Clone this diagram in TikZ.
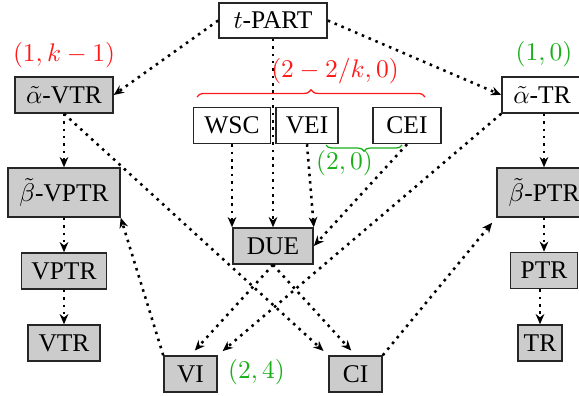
\documentclass[tikz,border=0pt]{standalone}
\usepackage{fontspec}
\setmainfont{Liberation Serif}
\usetikzlibrary{arrows.meta,decorations.pathreplacing}
\definecolor{lblred}{RGB}{255,25,25}
\definecolor{lblgreen}{RGB}{25,175,25}
\begin{document}
\begin{tikzpicture}[x=0.3922pt,y=-0.3922pt,
  box/.style={draw=black!85, line width=0.6pt, inner sep=0pt, minimum height=14.1pt, fill=white},
  gbox/.style={box, fill=black!20},
  arr/.style={line width=1pt, dash pattern=on 1pt off 1.9pt, -{Stealth[length=4pt,width=3.4pt,inset=1.3pt]}},
  sarr/.style={arr, shorten >=2.5pt},
  rlab/.style={text=lblred, inner sep=0pt},
  glab/.style={text=lblgreen, inner sep=0pt},
  brc/.style={line width=0.5pt, decorate}
]
\useasboundingbox (0,0) rectangle (579,395);

% nodes
\node[box, minimum width=42.4pt, minimum height=13.7pt] (tpart) at (273,20.5) {$t$-PART};
\node[gbox, minimum width=38.4pt] (avtr) at (64,95) {$\tilde{\alpha}$-VTR};
\node[gbox, minimum width=43.9pt, minimum height=19.2pt] (bvptr) at (64,192.5) {$\tilde{\beta}$-VPTR};
\node[gbox, minimum width=33.3pt] (vptr) at (64,271) {VPTR};
\node[gbox, minimum width=28.2pt] (vtr) at (64,343) {VTR};
\node[box, minimum width=31.4pt] (atr) at (542,95) {$\tilde{\alpha}$-TR};
\node[gbox, minimum width=36.9pt, minimum height=19.2pt] (bptr) at (544,192.5) {$\tilde{\beta}$-PTR};
\node[gbox, minimum width=26.3pt] (ptr) at (544,270.5) {PTR};
\node[gbox, minimum width=17.3pt] (tr) at (540,343) {TR};
\node[box, minimum width=30.2pt] (wsc) at (232,125.5) {WSC};
\node[box, minimum width=24.3pt] (vei) at (307,125.5) {VEI};
\node[box, minimum width=26.7pt] (cei) at (407,125.5) {CEI};
\node[gbox, minimum width=31.4pt] (due) at (273,246) {DUE};
\node[gbox, minimum width=20.8pt] (vi) at (190.5,374) {VI};
\node[gbox, minimum width=20.8pt] (ci) at (355.5,374) {CI};

% labels
\node[rlab] (lavtr) at (64,55) {$(1,k-1)$};
\node[glab] (latr) at (544,54) {$(1,0)$};
\node[rlab] (lmid) at (335,71) {$(2-2/k,0)$};
\node[glab] (lvc) at (344.5,163) {$(2,0)$};
\node[glab] (lvi) at (256.5,372.5) {$(2,4)$};

% braces
\coordinate (rb1) at (197,97);
\coordinate (rb2) at (425,97);
\draw[brc, lblred, decoration={brace, amplitude=2.8pt}] (rb1) -- (rb2);
\coordinate (gb1) at (326,145);
\coordinate (gb2) at (402,145);
\draw[brc, lblgreen, decoration={brace, mirror, amplitude=2.4pt}] (gb1) -- (gb2);

% connectors
\draw[arr] (tpart.west) -- (avtr.east);
\draw[arr] (tpart.east) -- (atr.west);
\draw[arr] (tpart.south) -- (due.north);
\draw[arr] (wsc.south) -- (wsc.south |- due.north);
\draw[arr] (vei.south) -- (due.north east);
\draw[arr] (cei.south) -- (due.east);
\draw[sarr] (atr.south west) -- (vi.north east);
\draw[sarr] (due.south) -- (vi.north);
\draw[sarr] (due.south) -- (ci.north);
\draw[sarr] (avtr.south) -- (ci.north west);
\draw[arr] (vi.north west) -- (bvptr.south east);
\draw[sarr] (ci.north east) -- (bptr.south west);
\draw[arr] (avtr) -- (bvptr);
\draw[arr] (bvptr) -- (vptr);
\draw[arr] (vptr) -- (vtr);
\draw[arr] (atr.south -| ptr) -- (bptr.north -| ptr);
\draw[arr] (bptr.south -| ptr) -- (ptr.north);
\draw[arr] (ptr.south -| tr) -- (tr.north);
\end{tikzpicture}
\end{document}
